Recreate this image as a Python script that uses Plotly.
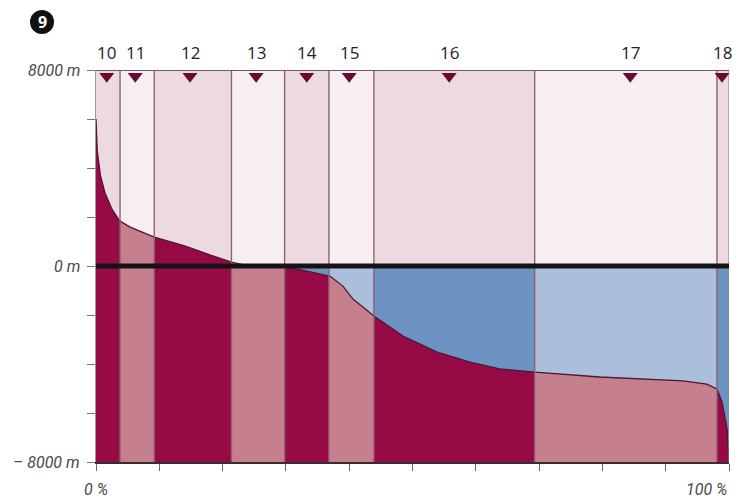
import numpy as np
import plotly.graph_objects as go

# ---- data ----
curve_pct = [0, 0.2, 0.7, 1.4, 2.5, 3.5, 4.0, 5.4, 9.2, 14.0, 18.0, 21.4, 23.5, 25.9,
             29.8, 32.2, 34.6, 37.0, 39.0, 40.6, 43.9, 48.5, 53.9, 59.1, 63.8,
             69.3, 79.6, 92.7, 96.5, 98.1, 98.9, 99.7, 100]
curve_elev = [6000, 4700, 3700, 3000, 2330, 1920, 1800, 1590, 1180, 820, 450, 160, 40, -20,
              -60, -150, -280, -420, -820, -1350, -2040, -2860, -3510, -3920, -4200,
              -4330, -4530, -4690, -4820, -5020, -5550, -6650, -8000]
band_edges = [0, 3.8, 9.2, 21.4, 29.8, 36.8, 43.9, 69.3, 98.1, 100]
band_labels = ["10", "11", "12", "13", "14", "15", "16", "17", "18"]
marker_pct = [1.7, 6.2, 14.85, 25.3, 33.3, 40.0, 55.8, 84.4, 98.9]
y_tick_vals = [8000, 6000, 4000, 2000, 0, -2000, -4000, -6000, -8000]
y_label_vals = [8000, 0, -8000]
y_label_text = ["8000 m", "0 m", "\u2013 8000 m"]
x_tick_vals = [0, 10, 20, 30, 40, 50, 60, 70, 80, 90, 100]
x_label_vals = [0, 100]
x_label_text = ["0 %", "100 %"]
badge_text = "9"

# ---- styles ----
YMIN, YMAX = -8000, 8000
above_cols = ["#eddae0", "#f6eef1"]
ocean_cols = ["#6c93c1", "#abbedc"]
below_cols = ["#960a46", "#c57f8d"]
sep_col = "#8f6174"
label_font = dict(family="Liberation Sans Narrow, Roboto, sans-serif", size=16,
                  color="#4a4a4a", style="italic")

cx = np.array(curve_pct, dtype=float)
cy = np.array(curve_elev, dtype=float)

fig = go.Figure()

def poly(xs, ys, color):
    fig.add_trace(go.Scatter(x=xs, y=ys, fill="toself", fillcolor=color, mode="lines",
                             line=dict(width=0), hoverinfo="skip", showlegend=False))

for i in range(len(band_edges) - 1):
    a, b = band_edges[i], band_edges[i + 1]
    k = i % 2
    poly([a, b, b, a, a], [0, 0, YMAX, YMAX, 0], above_cols[k])
    poly([a, b, b, a, a], [YMIN, YMIN, 0, 0, YMIN], ocean_cols[k])
    inner = (cx > a) & (cx < b)
    xs = [a] + list(cx[inner]) + [b]
    ys = [float(np.interp(a, cx, cy))] + list(cy[inner]) + [float(np.interp(b, cx, cy))]
    poly(xs + [b, a, a], ys + [YMIN, YMIN, ys[0]], below_cols[k])

# curve outline
fig.add_trace(go.Scatter(x=curve_pct, y=curve_elev, mode="lines",
                         line=dict(color="#4d1832", width=1.3),
                         hoverinfo="skip", showlegend=False))

# band separators
sx, sy = [], []
for e in band_edges[1:-1]:
    sx += [e, e, None]
    sy += [YMIN, YMAX, None]
fig.add_trace(go.Scatter(x=sx, y=sy, mode="lines", line=dict(color=sep_col, width=1.4),
                         hoverinfo="skip", showlegend=False))
fig.add_trace(go.Scatter(x=[band_edges[-1], band_edges[-1]], y=[YMIN, YMAX], mode="lines",
                         line=dict(color="#8a8a8a", width=1.2), hoverinfo="skip",
                         showlegend=False))

# top line at 8000 m
fig.add_trace(go.Scatter(x=[band_edges[0], band_edges[-1]], y=[YMAX, YMAX], mode="lines",
                         line=dict(color="#6e5a63", width=2), hoverinfo="skip",
                         showlegend=False, cliponaxis=False))

# sea level line
fig.add_trace(go.Scatter(x=[-1.4, band_edges[-1]], y=[0, 0], mode="lines",
                         line=dict(color="#141414", width=5), hoverinfo="skip",
                         showlegend=False, cliponaxis=False))

# markers
fig.add_trace(go.Scatter(x=marker_pct, y=[YMAX - 260] * len(marker_pct), mode="markers",
                         marker=dict(symbol="triangle-down", size=13, color="#6a0a30",
                                     line=dict(width=0)),
                         hoverinfo="skip", showlegend=False, cliponaxis=False))

annotations = []
for xp, t in zip(marker_pct, band_labels):
    annotations.append(dict(x=xp, y=YMAX, xref="x", yref="y", text=t, showarrow=False,
                            yshift=18, yanchor="middle",
                            font=dict(family="Open Sans, Liberation Sans, sans-serif",
                                      size=17, color="#222222")))
for v, t in zip(y_label_vals, y_label_text):
    annotations.append(dict(x=0, y=v, xref="paper", yref="y", text=t, showarrow=False,
                            xanchor="right", yanchor="middle", xshift=-14, font=label_font))
for v, t in zip(x_label_vals, x_label_text):
    annotations.append(dict(x=v, y=0, xref="x", yref="paper", text=t, showarrow=False,
                            xanchor="center" if v == 0 else "right", yanchor="middle",
                            yshift=-27, font=label_font))

BX, BY = -0.0853, 1.1224
annotations.append(dict(x=BX, y=BY, xref="paper", yref="paper", text="<b>%s</b>" % badge_text,
                        showarrow=False, xanchor="center", yanchor="middle",
                        font=dict(family="Open Sans, sans-serif", size=16, color="white")))

fig.update_layout(
    width=728, height=496,
    margin=dict(l=88, r=7, t=62, b=42),
    paper_bgcolor="white", plot_bgcolor="white",
    showlegend=False,
    annotations=annotations,
    shapes=[dict(type="circle", xref="paper", yref="paper",
                 x0=BX - 0.019, x1=BX + 0.019,
                 y0=BY - 0.0306, y1=BY + 0.0306,
                 fillcolor="#111111", line=dict(width=0), layer="above")],
    xaxis=dict(range=[0, 100], showgrid=False, zeroline=False, showline=True,
               linecolor="#3a2a32", linewidth=1.5, ticks="outside", ticklen=7,
               tickcolor="#666666", tickvals=x_tick_vals, showticklabels=False,
               fixedrange=True),
    yaxis=dict(range=[YMIN, YMAX], showgrid=False, zeroline=False, showline=True,
               linecolor="#9a9a9a", linewidth=1, ticks="outside", ticklen=8,
               tickcolor="#777777", tickvals=y_tick_vals, showticklabels=False,
               fixedrange=True),
)

fig.write_html("out.html")
